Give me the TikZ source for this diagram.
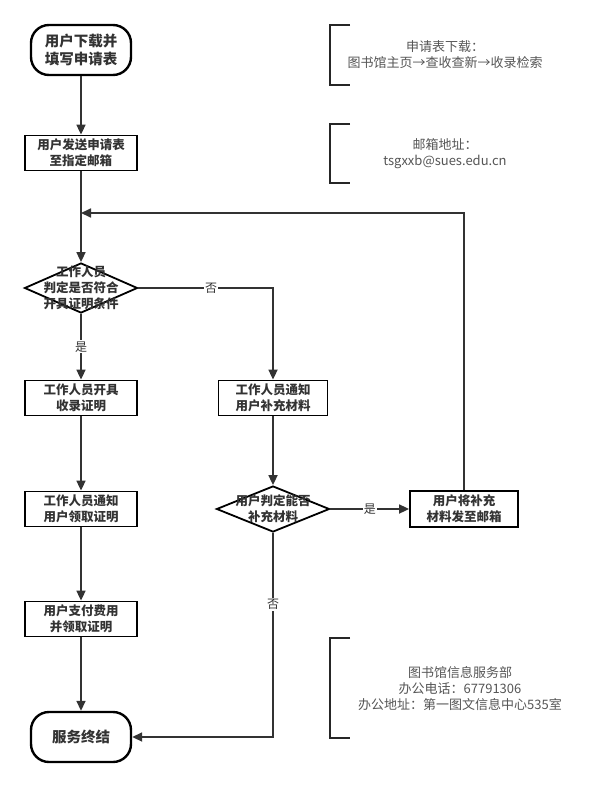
\documentclass[tikz,border=0pt]{standalone}
\usepackage{fontspec}
\setmainfont{Noto Sans CJK SC}
\usetikzlibrary{arrows.meta,shapes.geometric}
\definecolor{ink}{HTML}{333333}
\definecolor{note}{HTML}{555555}

\begin{document}
\begin{tikzpicture}[x=1pt,y=-1pt,
    every node/.style={text=ink,align=center,font=\fontsize{12.5}{16}\selectfont},
    terminal/.style={draw=black,line width=2.4pt,rounded corners=18pt,minimum width=100pt,minimum height=50pt,font=\fontsize{14.5}{18}\selectfont\bfseries},
    stepbox/.style={draw=black,line width=1.8pt,minimum width=112pt,minimum height=35pt,inner sep=0pt,font=\fontsize{12.5}{16}\selectfont\bfseries},
    decision/.style={draw=black,diamond,line width=1.8pt,inner sep=0pt,minimum width=113pt,minimum height=50pt},
    flow/.style={ink,line width=1.7pt,-{Triangle[length=10pt,width=9pt]}},
    tag/.style={fill=white,inner sep=1pt,font=\fontsize{12}{14}\selectfont},
    bracket/.style={draw=black!85,line width=1.8pt},
    notetext/.style={text=note,font=\fontsize{13}{16}\selectfont}]
        \useasboundingbox (0,0) rectangle (614,787);
        \draw
            (81,50) node[terminal] (start){用户下载并\\填写申请表}
            (81,153) node[stepbox] (send){用户发送申请表\\至指定邮箱}
            (81,288) node[decision] (check){}
            (81,398) node[stepbox] (issue){工作人员开具\\收录证明}
            (273,398) node[stepbox,minimum width=109pt] (notify){工作人员通知\\用户补充材料}
            (81,509) node[stepbox] (collect){工作人员通知\\用户领取证明}
            (273,509) node[decision,minimum height=46pt] (judge){}
            (464,509) node[stepbox,minimum width=108pt,minimum height=36pt] (resend){用户将补充\\材料发至邮箱}
            (81,619) node[stepbox] (pay){用户支付费用\\并领取证明}
            (81,737) node[terminal] (finish){服务终结};
        \node[font=\fontsize{12.5}{16}\selectfont\bfseries] at (check) {工作人员\\判定是否符合\\开具证明条件};
        \node[font=\fontsize{12.5}{16}\selectfont\bfseries] at (judge) {用户判定能否\\补充材料};
        \coordinate (join) at (81,213);
        \begin{scope}[flow]
            \draw (start) to (send);
            \draw (send) to (check);
            \draw (check) to node[tag] {是} (issue);
            \draw (check.east) -| node[tag,pos=0.27] {否} (notify);
            \draw (issue) to (collect);
            \draw (collect) to (pay);
            \draw (pay) to (finish);
            \draw (notify) to (judge);
            \draw (judge) to node[tag] {是} (resend);
            \draw (resend.north) |- (join);
            \draw (judge.south) |- node[tag,pos=0.175] {否} (finish.east);
        \end{scope}
        % notes
        \draw[bracket] (350,25) -- (330,25) -- (330,85) -- (350,85);
        \node[notetext] (download) at (445,55) {申请表下载：\\图书馆主页→查收查新→收录检索};
        \draw[bracket] (350,124) -- (330,124) -- (330,183) -- (350,183);
        \node[notetext] (mail) at (445,154) {邮箱地址：\\tsgxxb@sues.edu.cn};
        \draw[bracket] (350,638) -- (330,638) -- (330,738) -- (350,738);
        \node[notetext] (office) at (460,689) {图书馆信息服务部\\办公电话：67791306\\办公地址：第一图文信息中心535室};
  \end{tikzpicture}
\end{document}
